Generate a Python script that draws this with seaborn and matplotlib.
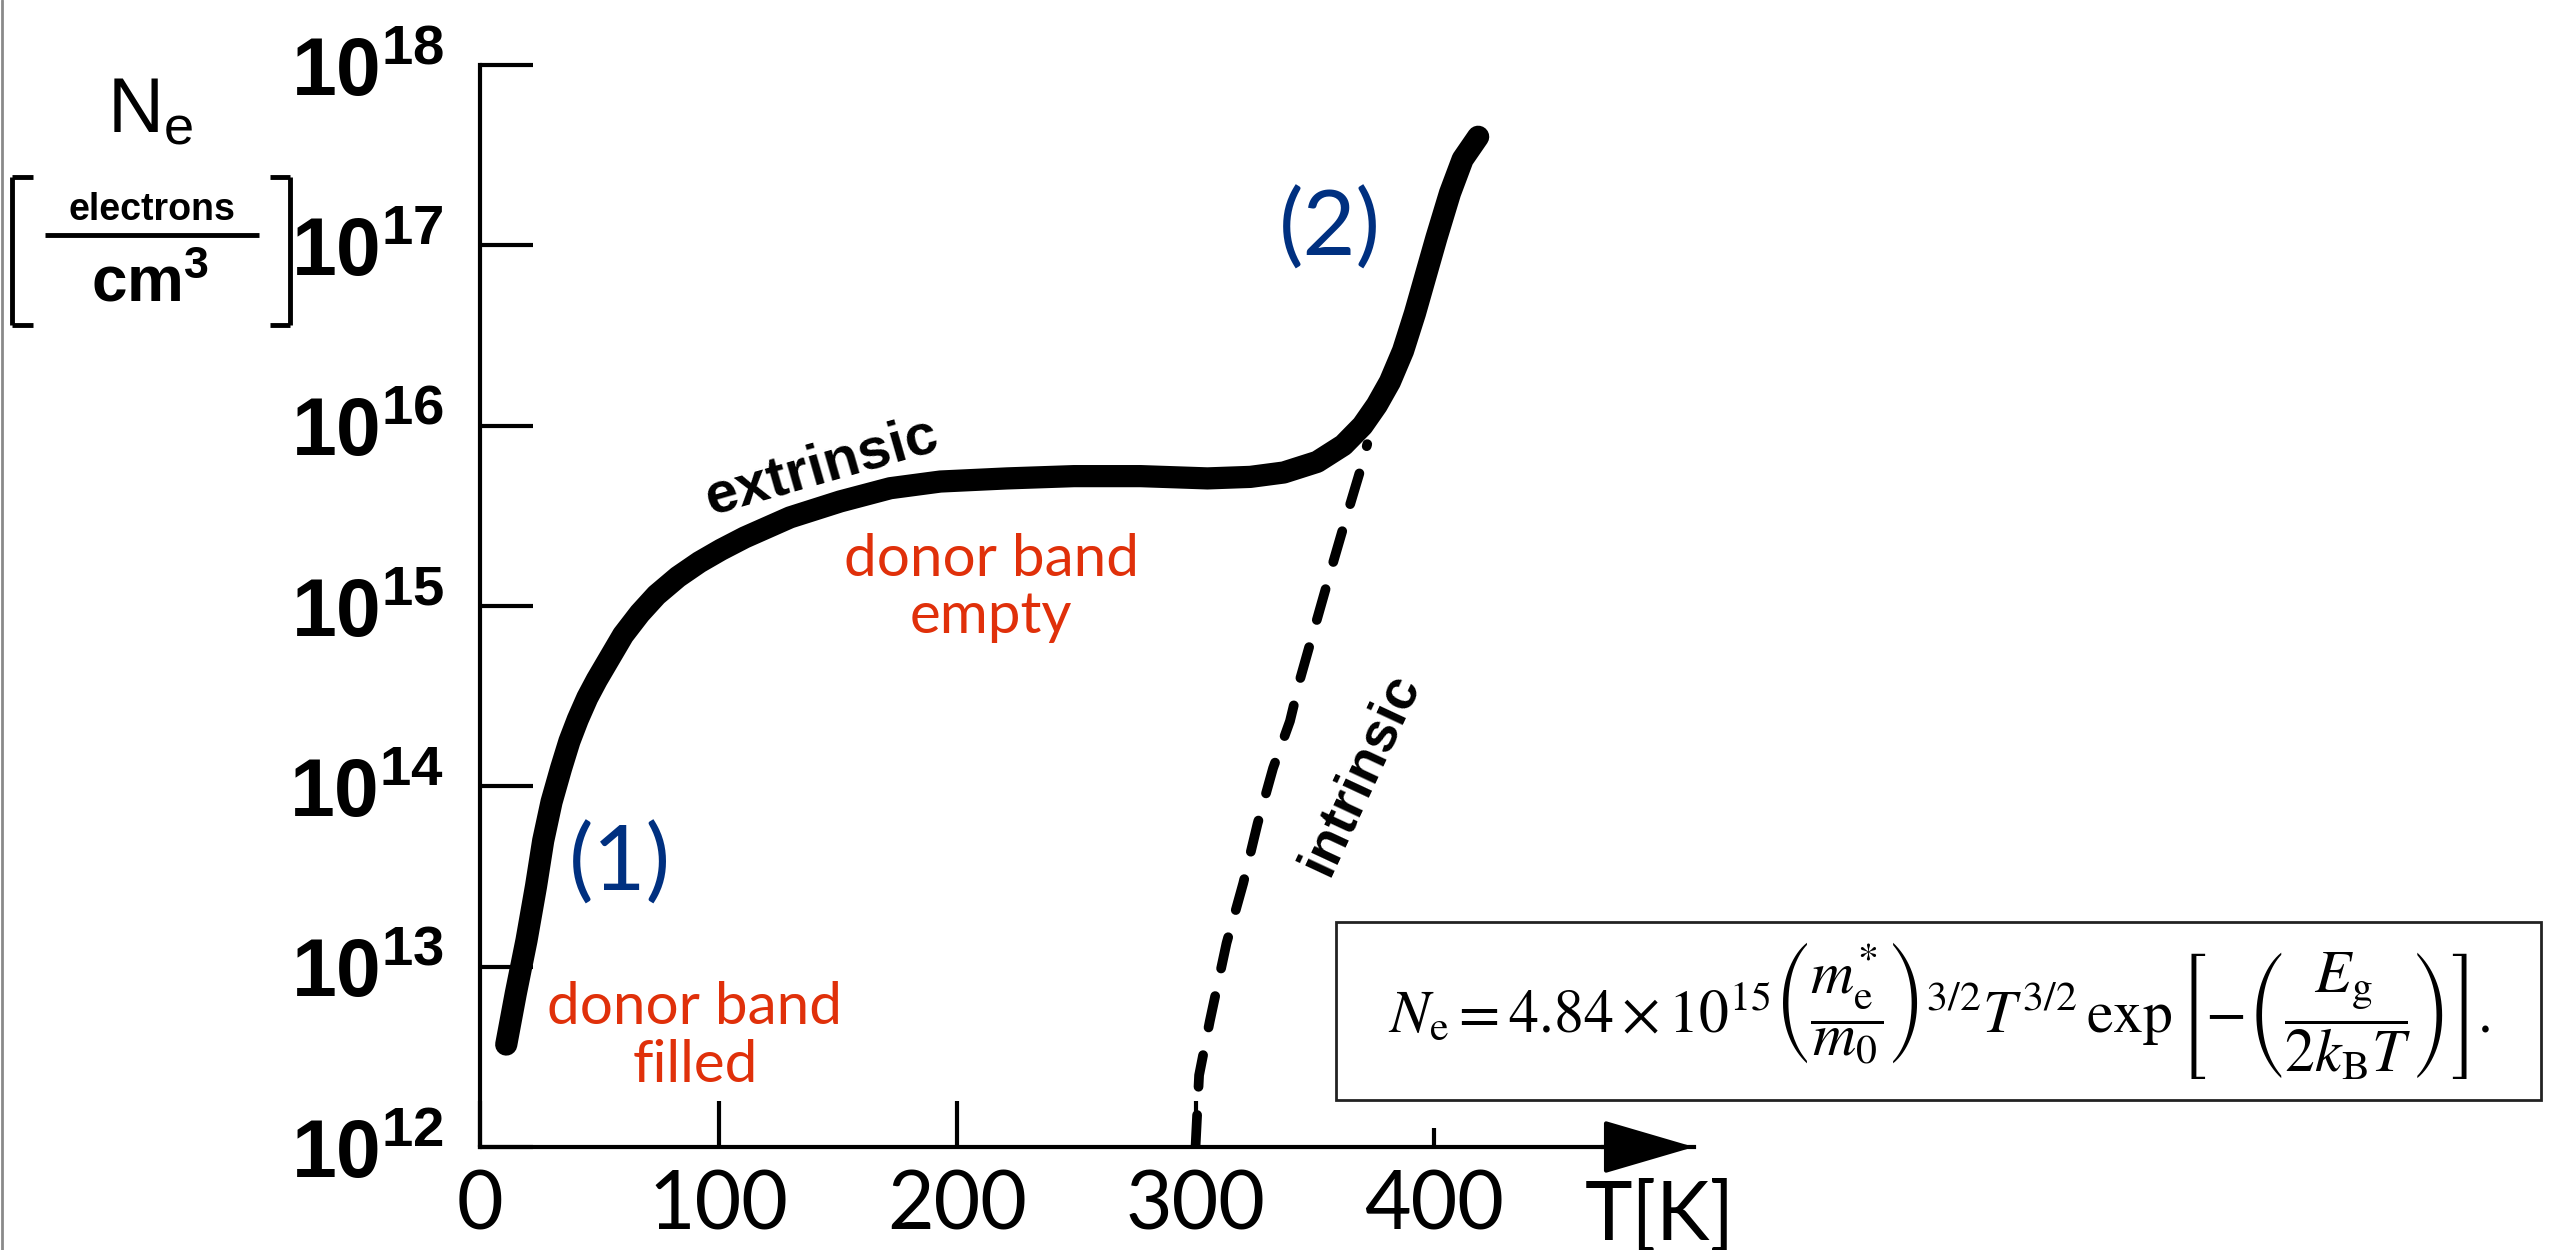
import numpy as np
import pandas as pd
import matplotlib
matplotlib.use("Agg")
import matplotlib.pyplot as plt
import seaborn as sns
from matplotlib.lines import Line2D
from matplotlib.patches import Rectangle
from matplotlib.ticker import NullLocator

# ---------------- data ----------------
T_extrinsic = [11, 15, 19.5, 23.5, 26.5, 30, 34, 37.5, 41, 45, 49, 60, 67, 74,
               83, 92, 101, 111, 130, 151, 172, 193, 221, 249, 277, 305, 323,
               337, 351, 362, 370, 376, 381.5, 387, 392, 396.5, 401, 406.7,
               412, 418.5]
N_extrinsic = [3.7e12, 7.1e12, 1.4e13, 2.8e13, 5.0e13, 8.2e13, 1.26e14, 1.78e14,
               2.35e14, 3.1e14, 3.9e14, 6.9e14, 9.1e14, 1.15e15, 1.45e15,
               1.75e15, 2.05e15, 2.4e15, 3.1e15, 3.8e15, 4.5e15, 4.9e15, 5.1e15,
               5.25e15, 5.25e15, 5.1e15, 5.2e15, 5.5e15, 6.3e15, 7.8e15, 1.0e16,
               1.3e16, 1.75e16, 2.6e16, 4.2e16, 6.8e16, 1.1e17, 1.95e17, 3.0e17,
               4.0e17]

T_intrinsic = [300, 301.5, 306, 313, 320, 326, 332.5, 339.6, 344, 351, 358,
               363.5, 369, 372]
N_intrinsic = [1.0e12, 2.5e12, 5.0e12, 1.35e13, 2.9e13, 6.2e13, 1.26e14, 2.3e14,
               4.0e14, 8.5e14, 1.8e15, 3.2e15, 5.6e15, 7.9e15]

y_tick_exponents = [12, 13, 14, 15, 16, 17, 18]
x_ticks = [0, 100, 200, 300, 400]
x_tick_labels = ["0", "100", "200", "300", "400"]

# ---------------- styling ----------------
sns.set_theme(style="white")
plt.rcParams["font.family"] = ["Liberation Sans", "DejaVu Sans"]
plt.rcParams["mathtext.fontset"] = "custom"
plt.rcParams["mathtext.rm"] = "Liberation Sans"
plt.rcParams["mathtext.bf"] = "Liberation Sans:bold"
plt.rcParams["mathtext.it"] = "Liberation Sans:italic"

W, H = 2557, 1250
fig = plt.figure(figsize=(W / 100, H / 100), dpi=100)
fig.patch.set_facecolor("white")

ax_left, ax_bottom_px, ax_top_px, ax_right_px = 480, 1147, 65, 1694
ax = fig.add_axes([ax_left / W, 1 - ax_bottom_px / H,
                   (ax_right_px - ax_left) / W, (ax_bottom_px - ax_top_px) / H])
ax.set_facecolor("none")
ax.set_yscale("log")

df_ext = pd.DataFrame({"T": T_extrinsic, "N": N_extrinsic})
df_int = pd.DataFrame({"T": T_intrinsic, "N": N_intrinsic})

sns.lineplot(data=df_int, x="T", y="N", ax=ax, color="black", lw=7,
             dash_capstyle="round", estimator=None)
ax.lines[-1].set_dashes([3.3, 2.9])
sns.lineplot(data=df_ext, x="T", y="N", ax=ax, color="black", lw=16,
             solid_capstyle="round", solid_joinstyle="round", estimator=None)

ax.set_ylim(1e12, 1e18)
ax.set_xlim(0, 509)
ax.set_xlabel("")
ax.set_ylabel("")

for s in ["top", "right"]:
    ax.spines[s].set_visible(False)
for s in ["left", "bottom"]:
    ax.spines[s].set_linewidth(3)
    ax.spines[s].set_color("black")

ax.set_yticks([10.0 ** e for e in y_tick_exponents])
ax.set_yticklabels([rf"$\mathbf{{10^{{{e}}}}}$" for e in y_tick_exponents])
ax.yaxis.set_minor_locator(NullLocator())
ax.tick_params(axis="y", which="major", direction="in", length=38, width=3,
               pad=26, labelsize=58, colors="black", labelcolor="black", left=True)

ax.set_xticks(x_ticks)
ax.set_xticklabels(x_tick_labels)
ax.tick_params(axis="x", which="major", direction="in", length=33, width=3,
               pad=16, labelsize=58, colors="black", labelcolor="black", bottom=True)
for lab in ax.get_xticklabels():
    lab.set_fontfamily(["Lato", "DejaVu Sans"])
    lab.set_fontweight("normal")
    lab.set_color("black")
ax.xaxis.get_major_ticks()[4].tick1line.set_markersize(14)

# arrow head on the T axis
ax.annotate("", xy=(509, 1e12), xytext=(470, 1e12), xycoords="data",
            arrowprops=dict(arrowstyle="-|>,head_length=2.9,head_width=0.85",
                            mutation_scale=20, color="black", lw=3,
                            shrinkA=0, shrinkB=0),
            annotation_clip=False)
ax.text(494.8, -0.065, "T[K]", transform=ax.get_xaxis_transform(),
        ha="center", va="center", fontsize=58, fontfamily=["Lato", "DejaVu Sans"],
        fontweight="normal", color="black")

# curve labels
ax.text(143.4, 5.9e15, "extrinsic", rotation=16, ha="center", va="center",
        fontsize=42, fontweight="bold", rotation_mode="anchor", color="black")
ax.text(369, 1.17e14, "intrinsic", rotation=65, ha="center", va="center",
        fontsize=40, fontweight="bold", rotation_mode="anchor", color="black")

red = "#e0300a"
blue = "#003080"
ax.text(214.3, 1.26e15, "donor band\nempty", ha="center", va="center",
        fontsize=42, color=red, fontfamily=["Lato", "DejaVu Sans"], linespacing=1.1)
ax.text(90.1, 4.1e12, "donor band\nfilled", ha="center", va="center",
        fontsize=42, color=red, fontfamily=["Lato", "DejaVu Sans"], linespacing=1.1)
ax.text(58.7, 3.7e13, "(1)", ha="center", va="center", fontsize=66, color=blue,
        fontfamily=["Lato", "DejaVu Sans"])
ax.text(356.4, 1.23e17, "(2)", ha="center", va="center", fontsize=66, color=blue,
        fontfamily=["Lato", "DejaVu Sans"])

# formula box
bx0, bx1, by0, by1 = 1336, 2541, 922, 1100
fig.patches.append(Rectangle((bx0 / W, 1 - by1 / H), (bx1 - bx0) / W, (by1 - by0) / H,
                             transform=fig.transFigure, fill=False,
                             edgecolor="#222222", lw=2))
formula = (r"$N_\mathrm{e} = 4.84\times10^{15}\left(\dfrac{m_\mathrm{e}^{*}}{m_0}\right)^{3/2}"
           r"T^{3/2}\,\exp\left[-\left(\dfrac{E_\mathrm{g}}{2k_\mathrm{B}T}\right)\right].$")
fig.text((bx0 + bx1) / 2 / W, 1 - 1011 / H, formula, ha="center", va="center",
         fontsize=43, math_fontfamily="stix", color="black")

# y axis label: N_e [electrons / cm^3]
def fx(px):
    return px / W

def fy(py):
    return 1 - py / H

fig.text(fx(150), fy(112), r"N$_\mathregular{e}$", ha="center", va="center",
         fontsize=56, color="black")
fig.text(fx(152), fy(210), "electrons", ha="center", va="center",
         fontsize=27, fontweight="bold", color="black")
fig.text(fx(150), fy(285), r"cm$^{\mathregular{3}}$", ha="center", va="center",
         fontsize=46, fontweight="bold", color="black")
lines = [
    ([45, 259], [235, 235]),
    ([12, 12], [177, 325]), ([12, 33], [177, 177]), ([12, 33], [325, 325]),
    ([290, 290], [177, 325]), ([290, 270], [177, 177]), ([290, 270], [325, 325]),
]
for xs, ys in lines:
    fig.add_artist(Line2D([fx(v) for v in xs], [fy(v) for v in ys],
                          transform=fig.transFigure, color="black", lw=3.5,
                          solid_capstyle="butt"))
# slide border at far left
fig.add_artist(Line2D([fx(1.5), fx(1.5)], [0, 1], transform=fig.transFigure,
                      color="#8a8a8a", lw=2))

fig.savefig("out.png", dpi=100, facecolor="white")
